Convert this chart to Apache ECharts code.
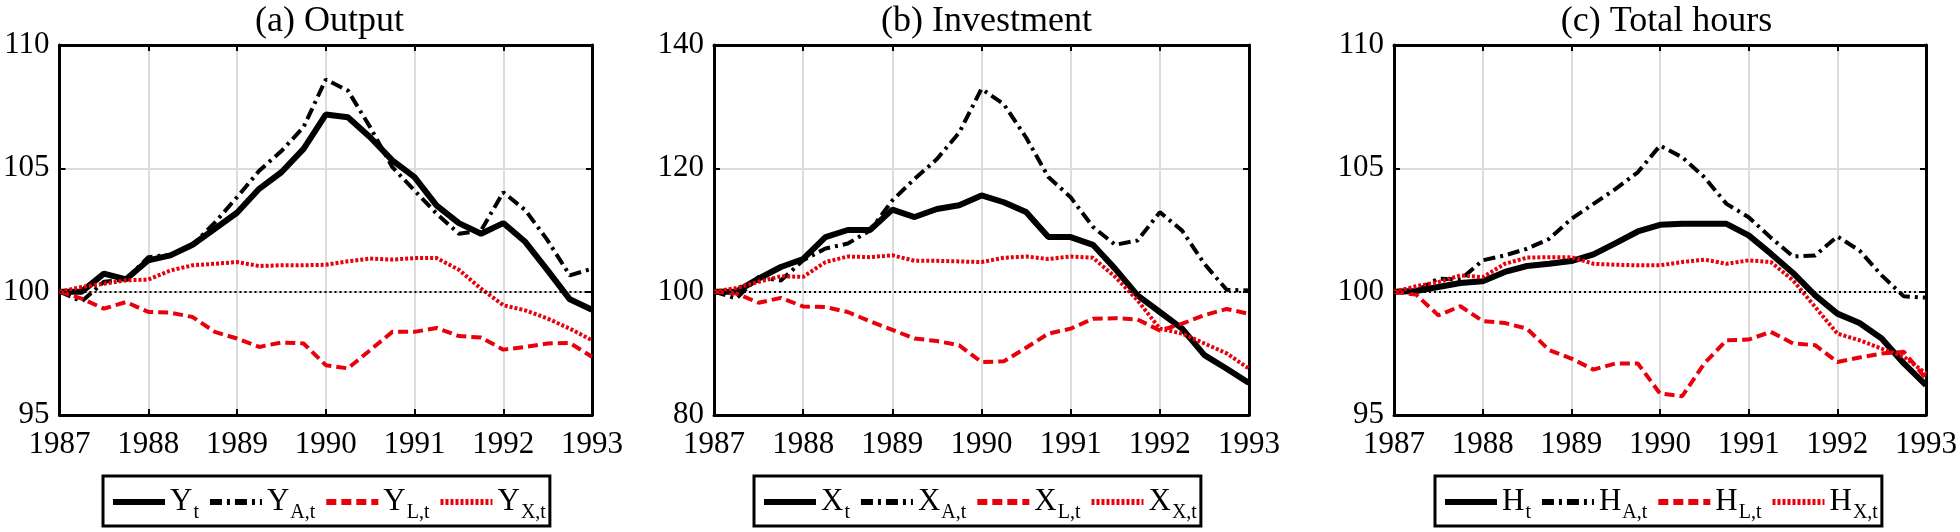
<!DOCTYPE html>
<html>
<head>
<meta charset="utf-8">
<script src="https://cdn.jsdelivr.net/npm/echarts@6/dist/echarts.min.js"></script>
<style>
  html, body { margin: 0; padding: 0; background: #fff; }
  #main { width: 1960px; height: 532px; }
</style>
</head>
<body>
<div id="main"></div>
<script>
// quarterly time points
const quarters = [1987, 1987.25, 1987.5, 1987.75, 1988, 1988.25, 1988.5, 1988.75,
  1989, 1989.25, 1989.5, 1989.75, 1990, 1990.25, 1990.5, 1990.75,
  1991, 1991.25, 1991.5, 1991.75, 1992, 1992.25, 1992.5, 1992.75, 1993];
const yearTicks = [1987, 1988, 1989, 1990, 1991, 1992, 1993];

// (a) Output
const outY  = [100, 100.0, 100.73, 100.5, 101.27, 101.47, 101.9, 102.55, 103.2, 104.17, 104.84, 105.79, 107.18, 107.07, 106.26, 105.32, 104.64, 103.49, 102.78, 102.35, 102.78, 102.01, 100.86, 99.69, 99.27];
const outYA = [100, 99.6, 100.4, 100.5, 101.4, 101.5, 101.9, 102.8, 103.83, 104.9, 105.7, 106.67, 108.6, 108.15, 106.67, 105.05, 104.1, 103.16, 102.35, 102.48, 104.03, 103.3, 102.08, 100.66, 100.93];
const outYL = [100, 99.72, 99.31, 99.58, 99.18, 99.15, 98.97, 98.37, 98.1, 97.76, 97.94, 97.9, 97.02, 96.89, 97.63, 98.37, 98.37, 98.53, 98.2, 98.14, 97.65, 97.76, 97.9, 97.92, 97.36];
const outYX = [100, 100.19, 100.32, 100.46, 100.49, 100.86, 101.07, 101.13, 101.2, 101.04, 101.07, 101.07, 101.09, 101.23, 101.34, 101.3, 101.36, 101.36, 100.89, 100.12, 99.45, 99.24, 98.91, 98.5, 98.03];

// (b) Investment
const invX  = [100, 100.0, 102.1, 104.0, 105.3, 108.85, 110.0, 110.0, 113.3, 112.1, 113.4, 114.0, 115.6, 114.5, 112.9, 108.85, 108.85, 107.6, 103.7, 99.4, 96.7, 94.0, 89.7, 87.5, 85.2];
const invXA = [100, 98.9, 102.4, 101.8, 105.1, 107.0, 107.8, 109.9, 114.8, 118.3, 121.5, 125.8, 132.9, 130.4, 125.0, 118.6, 115.3, 110.5, 107.6, 108.3, 112.9, 109.9, 104.5, 100.3, 100.2];
const invXL = [100, 99.7, 98.2, 99.0, 97.6, 97.5, 96.7, 95.2, 93.8, 92.4, 92.0, 91.3, 88.6, 88.7, 90.9, 93.2, 94.0, 95.6, 95.7, 95.5, 93.7, 94.8, 96.2, 97.2, 96.4];
const invXX = [100, 100.6, 101.6, 102.5, 102.4, 104.8, 105.7, 105.6, 105.9, 105.0, 105.0, 104.9, 104.8, 105.5, 105.7, 105.3, 105.7, 105.5, 102.4, 98.6, 94.0, 93.2, 91.6, 90.0, 87.5];

// (c) Total hours
const hrsH  = [100, 100.03, 100.19, 100.35, 100.42, 100.8, 101.04, 101.13, 101.24, 101.51, 101.97, 102.44, 102.71, 102.75, 102.75, 102.75, 102.28, 101.54, 100.76, 99.85, 99.11, 98.73, 98.1, 97.09, 96.21];
const hrsHA = [100, 100.03, 100.53, 100.49, 101.27, 101.47, 101.74, 102.14, 102.95, 103.56, 104.17, 104.84, 105.92, 105.45, 104.64, 103.56, 103.02, 102.19, 101.43, 101.47, 102.24, 101.67, 100.66, 99.81, 99.76];
const hrsHL = [100, 99.88, 99.04, 99.41, 98.81, 98.73, 98.5, 97.63, 97.29, 96.84, 97.09, 97.09, 95.87, 95.76, 97.09, 98.03, 98.06, 98.37, 97.9, 97.83, 97.15, 97.33, 97.49, 97.56, 96.48];
const hrsHX = [100, 100.22, 100.39, 100.66, 100.59, 101.13, 101.38, 101.4, 101.4, 101.13, 101.09, 101.07, 101.07, 101.2, 101.3, 101.13, 101.27, 101.2, 100.46, 99.38, 98.3, 98.03, 97.69, 97.36, 96.68];

const titles = ['(a) Output', '(b) Investment', '(c) Total hours'];
const yRanges = [[95, 110, 5], [80, 140, 20], [95, 110, 5]];
const letters = ['Y', 'X', 'H'];
const panelData = [
  [outY, outYA, outYL, outYX],
  [invX, invXA, invXL, invXX],
  [hrsH, hrsHA, hrsHL, hrsHX]
];

const FONT = '"Liberation Serif", "Times New Roman", serif';
const RED = '#e8000b';

// layout of each panel
const gridLefts = [57, 714, 1394];
const gridWidth = 535;
const legendLefts = [103, 754, 1435];

// line styles in order: solid, dash-dot, dashed, dotted
const styles = [
  { color: '#000', width: 6, type: 'solid' },
  { color: '#000', width: 4, type: [12, 5, 3, 5] },
  { color: RED, width: 4, type: [10, 5] },
  { color: RED, width: 4, type: [3, 2] }
];
const subs = ['t', 'A,t', 'L,t', 'X,t'];

let grid = [], xAxis = [], yAxis = [], series = [], title = [], legend = [];

panelData.forEach(function (sets, p) {
  grid.push({ left: gridLefts[p], top: 45, width: gridWidth, height: 370 });
  title.push({
    text: titles[p],
    left: gridLefts[p] + gridWidth / 2,
    textAlign: 'center',
    top: -1,
    textStyle: { fontFamily: FONT, fontSize: 36, fontWeight: 'normal', color: '#000' }
  });

  const axisLine = { show: true, onZero: false, lineStyle: { color: '#000', width: 3 } };
  const axisTick = { show: true, inside: true, length: 6, lineStyle: { color: '#000', width: 2 } };

  // bottom x axis with labels
  xAxis.push({
    type: 'value', gridIndex: p, min: 1987, max: 1993, interval: 1,
    axisLine: axisLine, axisTick: axisTick,
    axisLabel: { fontFamily: FONT, fontSize: 31, color: '#000', margin: 14,
      formatter: function (v) { return String(v); } },
    splitLine: { show: true, lineStyle: { color: '#dcdcdc', width: 2 } }
  });
  // top x axis (box + ticks)
  xAxis.push({
    type: 'value', gridIndex: p, position: 'top', min: 1987, max: 1993, interval: 1,
    axisLine: axisLine, axisTick: axisTick, axisLabel: { show: false }, splitLine: { show: false }
  });
  const yr = yRanges[p];
  yAxis.push({
    type: 'value', gridIndex: p, min: yr[0], max: yr[1], interval: yr[2],
    axisLine: axisLine, axisTick: axisTick,
    axisLabel: { fontFamily: FONT, fontSize: 31, color: '#000', margin: 10 },
    splitLine: { show: true, lineStyle: { color: '#dcdcdc', width: 2 } }
  });
  yAxis.push({
    type: 'value', gridIndex: p, position: 'right', min: yr[0], max: yr[1], interval: yr[2],
    axisLine: axisLine, axisTick: axisTick, axisLabel: { show: false }, splitLine: { show: false }
  });

  const names = [];
  sets.forEach(function (vals, k) {
    const name = letters[p] + '_' + subs[k];
    names.push(name);
    const s = {
      name: name,
      type: 'line',
      xAxisIndex: p * 2,
      yAxisIndex: p * 2,
      symbol: 'none',
      animation: false,
      data: quarters.map(function (q, i) { return [q, vals[i]]; }),
      lineStyle: styles[k],
      itemStyle: { color: styles[k].color }
    };
    if (k === 0) {
      s.markLine = {
        silent: true, symbol: 'none', animation: false,
        label: { show: false },
        lineStyle: { color: '#000', width: 2, type: [2, 3] },
        data: [{ yAxis: 100 }]
      };
      s.z = 3;
    }
    series.push(s);
  });

  legend.push({
    data: names,
    left: legendLefts[p],
    top: 476,
    orient: 'horizontal',
    itemWidth: 52,
    itemHeight: 14,
    itemGap: 8,
    padding: [5, 4, 3, 7],
    borderColor: '#000',
    borderWidth: 3,
    borderRadius: 0,
    selectedMode: false,
    itemStyle: { opacity: 0 },
    lineStyle: { width: 6 },
    formatter: function (n) {
      const parts = n.split('_');
      return '{b|' + parts[0] + '}{s|' + parts[1] + '}';
    },
    textStyle: {
      color: '#000',
      rich: {
        b: { fontFamily: FONT, fontSize: 31, lineHeight: 40, color: '#000' },
        s: { fontFamily: FONT, fontSize: 20, lineHeight: 40, color: '#000', padding: [22, 0, 0, 1] }
      }
    }
  });
});

const chart = echarts.init(document.getElementById('main'));
chart.setOption({
  backgroundColor: '#fff',
  animation: false,
  title: title,
  grid: grid,
  xAxis: xAxis,
  yAxis: yAxis,
  legend: legend,
  series: series
});
</script>
</body>
</html>
